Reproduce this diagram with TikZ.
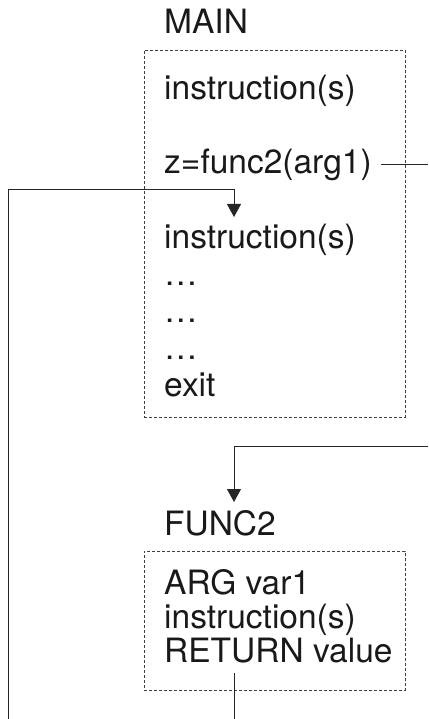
\documentclass[tikz,border=0pt]{standalone}
\usepackage{fontspec}
\setmainfont{TeX Gyre Heros}
\usetikzlibrary{arrows.meta}
\tikzset{
  txt/.style={anchor=base west, inner sep=0pt, font=\fontsize{33.5}{40}\selectfont, text=black!90},
  dbox/.style={draw=black!75, line width=0.8pt, dash pattern=on 3pt off 2pt, anchor=north west, inner sep=0pt},
  conn/.style={draw=black!85, line width=0.9pt},
  arr/.style={conn, -{Triangle[width=14pt,length=13pt]}}
}
\begin{document}
\begin{tikzpicture}[x=1pt,y=-1pt]
\useasboundingbox (0,0) rectangle (428,719);
% boxes
\node[dbox, minimum width=261pt, minimum height=367pt] (mainbox) at (144,50) {};
\node[dbox, minimum width=261pt, minimum height=139pt] (funcbox) at (144,551) {};
% labels
\node[txt] (mainlbl) at (164,34) {MAIN};
\node[txt] (funclbl) at (164,535) {FUNC2};
% main content
\node[txt] (m1) at (164,100) {instruction(s)};
\node[txt] (call) at (164,174) {z=func2(arg1)};
\node[txt] (m2) at (164,248) {instruction(s)};
\node[txt] (d1) at (164,285) {…};
\node[txt] (d2) at (164,322) {…};
\node[txt] (d3) at (164,359) {…};
\node[txt] (ex) at (164,396) {exit};
% func content
\node[txt] (f1) at (164,594) {ARG var1};
\node[txt] (f2) at (164,628) {instruction(s)};
\node[txt] (ret) at (164,662) {RETURN value};
% connector coordinates
\coordinate (callR) at (428,164);
\coordinate (inR) at (428,446);
\coordinate (inC) at (234,446);
\coordinate (funcTip) at (234,502);
\coordinate (retTop) at (234,673);
\coordinate (retBot) at (234,719);
\coordinate (leftBot) at (8,719);
\coordinate (leftTop) at (8,189);
\coordinate (backC) at (234,189);
\coordinate (backTip) at (234,217);
% connectors
\draw[conn] ([xshift=9pt]call.east |- callR) -- (callR);
\draw[arr] (inR) -- (inC) -- (funcTip);
\draw[conn] (retTop) -- (retBot);
\draw[arr] (leftBot) -- (leftTop) -- (backC) -- (backTip);
\end{tikzpicture}
\end{document}
